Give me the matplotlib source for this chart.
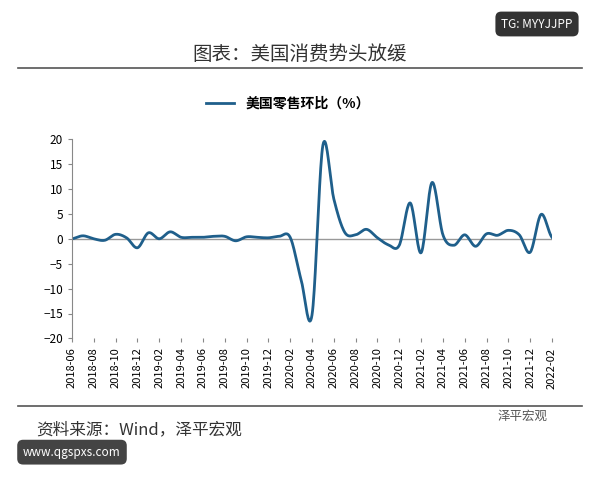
import matplotlib.pyplot as plt
import numpy as np

plt.rcParams['font.family'] = ['Noto Sans CJK SC', 'DejaVu Sans']

months = ['%d-%02d' % (2018 + (5 + i) // 12, (5 + i) % 12 + 1) for i in range(45)]
values = [0.0, 0.6, 0.0, -0.3, 0.9, 0.2, -1.8, 1.2, 0.0, 1.4, 0.3, 0.3,
          0.3, 0.5, 0.5, -0.4, 0.4, 0.3, 0.2, 0.5, 0.3, -8.2, -15.3, 18.8,
          8.0, 1.3, 0.8, 1.9, 0.2, -1.2, -1.3, 7.2, -2.8, 11.3, 0.8, -1.3,
          0.8, -1.5, 1.0, 0.7, 1.7, 0.8, -2.7, 4.9, 0.3]
tick_labels = months[::2]

# smooth curve through the points (Catmull-Rom)
x = np.arange(len(values), dtype=float)
y = np.array(values)
xs, ys = [], []
for i in range(len(x) - 1):
    p0 = y[max(i - 1, 0)]; p1 = y[i]; p2 = y[i + 1]; p3 = y[min(i + 2, len(y) - 1)]
    t = np.linspace(0, 1, 20, endpoint=False)
    ys.extend(0.5 * (2 * p1 + (-p0 + p2) * t + (2 * p0 - 5 * p1 + 4 * p2 - p3) * t**2
                     + (-p0 + 3 * p1 - 3 * p2 + p3) * t**3))
    xs.extend(x[i] + t)
xs.append(x[-1]); ys.append(y[-1])

fig = plt.figure(figsize=(6, 4.8), dpi=100)
ax = fig.add_axes([0.12, 0.295, 0.80, 0.415])
ax.plot(xs, ys, color='#1f5f8b', lw=2, label='美国零售环比（%）')
ax.set_xlim(0, 44)
ax.set_ylim(-20, 20)
ax.set_yticks(range(-20, 21, 5))
ax.set_xticks(range(0, 45, 2))
ax.set_xticklabels(tick_labels, rotation=90, fontsize=8)
ax.tick_params(axis='y', labelsize=8.5, length=3, color='#888888')
ax.tick_params(axis='x', length=3, color='#888888')
for s in ['top', 'right', 'bottom']:
    ax.spines[s].set_visible(False)
ax.spines['left'].set_color('#888888')
ax.axhline(0, color='#999999', lw=1, zorder=0)
ax.legend(loc='lower center', bbox_to_anchor=(0.45, 1.08), frameon=False,
          prop={'weight': 'bold', 'size': 10})

fig.text(0.5, 0.875, '图表：美国消费势头放缓', ha='center', fontsize=14, color='#333333')
fig.add_artist(plt.Line2D([0.03, 0.97], [0.858, 0.858], color='#555555', lw=1.2))
fig.add_artist(plt.Line2D([0.03, 0.97], [0.155, 0.155], color='#555555', lw=1.2))
fig.text(0.06, 0.095, '资料来源：Wind，泽平宏观', fontsize=12, style='italic', color='#333333')
fig.text(0.83, 0.125, '泽平宏观', fontsize=9, color='#555555')
fig.text(0.895, 0.95, 'TG: MYYJJPP', ha='center', va='center', fontsize=8.5, color='white',
         bbox=dict(boxstyle='round,pad=0.5', fc='#333333', ec='none'))
fig.text(0.12, 0.058, 'www.qgspxs.com', ha='center', va='center', fontsize=8.5, color='white',
         bbox=dict(boxstyle='round,pad=0.5', fc='#444444', ec='none'))

fig.savefig('out.png', dpi=100)
